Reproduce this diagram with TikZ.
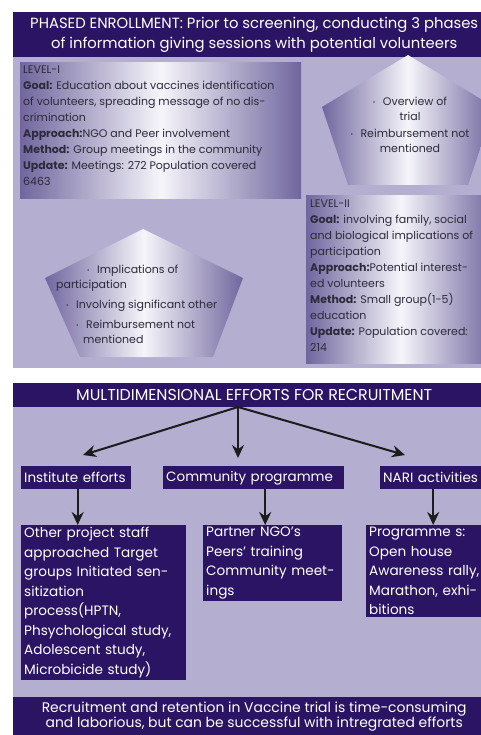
\documentclass[tikz,border=0pt]{standalone}
\usepackage{fontspec}
\setmainfont{Poppins}
\usetikzlibrary{arrows.meta,positioning,calc}

\definecolor{indigo}{RGB}{43,20,100}
\definecolor{lilac}{RGB}{180,174,208}
\definecolor{haze}{RGB}{112,102,158}
\definecolor{glow}{RGB}{246,245,250}
\definecolor{ink}{RGB}{45,42,60}
\definecolor{arrowink}{RGB}{28,28,28}

\newcommand{\pdot}{\makebox[10pt][l]{\raisebox{1pt}{\fontsize{6}{6}\selectfont •}}}

\begin{document}
\begin{tikzpicture}[x=1pt,y=-1pt,
    banner/.style={fill=indigo, text=white, align=center, inner sep=0pt, anchor=north west},
    glowbox/.style={left color=haze, right color=haze, middle color=glow, inner sep=0pt, anchor=north west},
    lvltext/.style={anchor=north west, inner sep=0pt, align=left, text=ink, font=\fontsize{11}{16}\selectfont},
    penttext/.style={inner sep=0pt, text=ink, font=\fontsize{11}{15}\selectfont},
    tag/.style={fill=indigo, text=white, anchor=north west, align=left, inner xsep=3pt, inner ysep=0pt, minimum height=23pt, font=\fontsize{13.5}{16}\selectfont},
    note/.style={fill=indigo, text=white, anchor=north west, align=left, inner xsep=3pt, inner ysep=2pt, font=\fontsize{13.6}{19.5}\selectfont},
    arr/.style={-{Stealth[length=13pt,width=12pt]}, line width=2pt, draw=arrowink}
]
    \useasboundingbox (0,0) rectangle (481,735);
    \clip (0,0) rectangle (481,735);

    % --- Phased enrollment panel ---
    \fill[lilac] (13,57) rectangle (495,368);
    \node[banner, minimum width=482pt, minimum height=45pt, font=\fontsize{14.8}{20}\selectfont] (phase) at (13,12)
        {PHASED ENROLLMENT: Prior to screening, conducting 3 phases\\of information giving sessions with potential volunteers};

    \node[glowbox, minimum width=281pt, minimum height=136pt] (lvlone) at (20,62) {};
    \node[lvltext] (lvlonetxt) at ([xshift=3pt,yshift=-4pt]lvlone.north west)
        {LEVEL-I\\
         \textbf{Goal:} Education about vaccines identification\\
         of volunteers, spreading message of no dis-\\
         crimination\\
         \textbf{Approach:}NGO and Peer involvement\\
         \textbf{Method:} Group meetings in the community\\
         \textbf{Update:} Meetings: 272 Population covered\\
         6463};

    \shade[left color=haze, right color=haze, middle color=glow]
        (408,55) -- (494,107) -- (468,185) -- (348,185) -- (322,107) -- cycle;
    \node[penttext, align=center] (pentatxt) at (410,125)
        {\pdot Overview of\\trial\\[2pt]\pdot Reimbursement not\\mentioned};

    \node[glowbox, minimum width=189pt, minimum height=168pt] (lvltwo) at (306,195) {};
    \node[lvltext] (lvltwotxt) at ([xshift=4pt,yshift=-5pt]lvltwo.north west)
        {LEVEL-II\\
         \textbf{Goal:} involving family, social\\
         and biological implications of\\
         participation\\
         \textbf{Approach:}Potential interest-\\
         ed volunteers\\
         \textbf{Method:} Small group(1-5)\\
         education\\
         \textbf{Update:} Population covered:\\
         214};

    \shade[left color=haze, right color=haze, middle color=glow]
        (143,229) -- (243,278) -- (213,357) -- (80,357) -- (45,278) -- cycle;
    \node[penttext, anchor=north west, align=left] (pentbtxt) at (56,265)
        {\hspace*{31pt}\pdot Implications of\\
         participation\\[5pt]
         \hspace*{10pt}\pdot Involving significant other\\[5pt]
         \hspace*{20pt}\pdot Reimbursement not\\
         \hspace*{27pt}mentioned};

    % --- Recruitment panel ---
    \fill[lilac] (13,407) rectangle (495,697);
    \node[banner, minimum width=482pt, minimum height=24pt, font=\fontsize{15.8}{17}\selectfont] (recruit) at (13,383)
        {MULTIDIMENSIONAL EFFORTS FOR RECRUITMENT};

    \node[tag, text width=104pt] (inst) at (21,466) {Institute efforts};
    \node[tag, text width=175pt] (comm) at (163,466) {Community programme};
    \node[tag, text width=107pt] (nari) at (380,466) {NARI activities};

    \node[note, text width=159pt] (instnote) at (21,525)
        {Other project staff\\approached Target\\groups Initiated sen-\\sitization\\process(HPTN,\\Phsychological study,\\Adolescent study,\\Microbicide study)};
    \node[note, text width=133pt] (commnote) at (203,525)
        {Partner NGO’s\\Peers’ training\\Community meet-\\ings};
    \node[note, text width=122pt] (narinote) at (366,525)
        {Programme s:\\Open house\\Awareness rally,\\Marathon, exhi-\\bitions};

    \coordinate (hub) at (238,407);
    \coordinate (instin) at (83,455);
    \coordinate (commin) at (238,458);
    \coordinate (nariin) at (405,455);
    \draw[arr] (hub) -- (instin);
    \draw[arr] (hub) -- (commin);
    \draw[arr] (hub) -- (nariin);

    \draw[arr] ([xshift=1.5pt]inst.south) -- ([xshift=1.5pt]inst.south |- instnote.north);
    \draw[arr] ([xshift=11.5pt]comm.south) -- ([xshift=11.5pt]comm.south |- commnote.north);
    \draw[arr] ([xshift=-3.5pt]nari.south) -- ([xshift=-3.5pt]nari.south |- narinote.north);

    \node[banner, minimum width=482pt, minimum height=38pt, font=\fontsize{13.9}{15}\selectfont] (verdict) at (13,697)
        {Recruitment and retention in Vaccine trial is time-consuming\\and laborious, but can be successful with intregrated efforts};
\end{tikzpicture}
\end{document}
